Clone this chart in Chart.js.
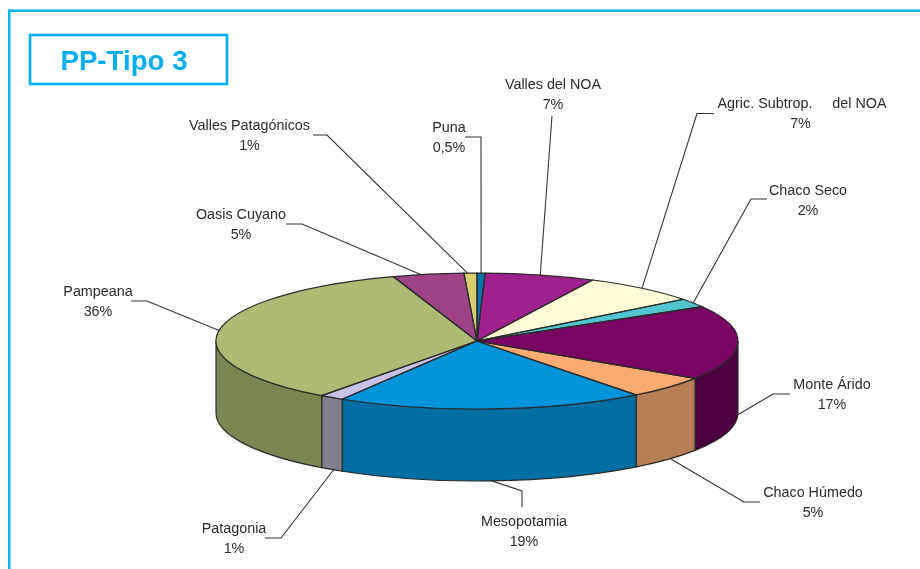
<!DOCTYPE html>
<html>
<head>
<meta charset="utf-8">
<style>html,body{margin:0;padding:0;background:#fff;overflow:hidden}canvas{display:block}</style>
<script src="https://cdn.jsdelivr.net/npm/chart.js@4"></script>
</head>
<body>
<canvas id="c" width="920" height="569"></canvas>
<script>
const chartTitle = 'PP-Tipo 3';
const categories = ['Puna','Valles del NOA','Agric. Subtrop.     del NOA','Chaco Seco','Monte Árido','Chaco Húmedo','Mesopotamia','Patagonia','Pampeana','Oasis Cuyano','Valles Patagónicos'];
const percentLabels = ['0,5%','7%','7%','2%','17%','5%','19%','1%','36%','5%','1%'];
// slice sizes
const sliceValues = [0.5,6.8,7.2,2.1,17.7,5.3,19.1,1.5,34.7,4.4,0.8];
const topColors = ['#0073aa','#a0218e','#fffbd6','#50c4d0','#7a0565','#fbaa71','#0095db','#c8c3e6','#adba73','#a04287','#d8cf6e'];
const sideColors = ['#005a85','#7a1a6c','#c9c6a8','#3d98a2','#4d0040','#b77f55','#006fa3','#81818f','#7a8650','#7a3268','#a8a055'];

// layout of annotation text and leader elbows
const textX = [449,553,802,808,832,813,524,234,98,241,249.5];
const textY = [132,89,108,195,389,497,526,533,296,219,130];
const elbowA = [[481,137],[552,116],[697,113.5],[751,199],[773,394],[744,502],[522,491],[281,538],[147,301],[302,224],[327,135]];
const elbowB = [[465,137],null,[714,113.5],[767,199],[790,394],[760,502],[522,507],[265,538],[131,301],[286,224],[313,135]];
const anchorNudge = [0,0,0,0,0,3,0,2,0,-8,-3];
const CX_PAD = 34, CY = 341, RX = 261, RY = 68, DEPTH = 72;
const K = RY / RX;
const INK = '#2a2a2a';

const pie3d = {
  id: 'pie3d',
  beforeDraw(chart) {
    const c = chart.ctx;
    c.save();
    c.strokeStyle = '#00b4f0';
    c.lineWidth = 2.5;
    c.strokeRect(9.2, 10.7, 1000, 1000);
    c.strokeStyle = '#00aeef';
    c.lineWidth = 2.6;
    c.strokeRect(30, 35, 197, 49);
    c.fillStyle = '#00aeef';
    c.font = 'bold 27.7px "Liberation Sans"';
    c.textAlign = 'center';
    c.textBaseline = 'alphabetic';
    c.fillText(chartTitle, 124, 70);
    c.restore();
  },
  beforeDatasetDraw(chart) {
    const c = chart.ctx, arcs = chart.getDatasetMeta(0).data;
    // side walls of the front half
    arcs.forEach((a, i) => {
      const s = Math.max(a.startAngle, 0), e = Math.min(a.endAngle, Math.PI);
      if (e <= s) return;
      c.save();
      c.beginPath();
      c.ellipse(a.x, CY, RX, RY, 0, s, e, false);
      c.ellipse(a.x, CY + DEPTH, RX, RY, 0, e, s, true);
      c.closePath();
      c.fillStyle = sideColors[i];
      c.fill();
      c.strokeStyle = INK;
      c.lineWidth = 1.2;
      c.stroke();
      c.restore();
    });
    c.save();
    const y0 = arcs[0].y;
    c.translate(0, CY);
    c.scale(1, K);
    c.translate(0, -y0);
  },
  afterDatasetDraw(chart) {
    const c = chart.ctx, arcs = chart.getDatasetMeta(0).data;
    c.restore();
    // slice outlines with an even pen
    c.save();
    c.strokeStyle = INK;
    c.lineWidth = 1.2;
    arcs.forEach(a => {
      c.beginPath();
      c.moveTo(a.x, CY);
      c.ellipse(a.x, CY, RX, RY, 0, a.startAngle, a.endAngle, false);
      c.closePath();
      c.stroke();
    });
    // leader lines, anchored on each slice's mid angle
    c.strokeStyle = '#333';
    c.lineWidth = 1.1;
    arcs.forEach((a, i) => {
      const mid = (a.startAngle + a.endAngle) / 2;
      const front = Math.sin(mid) > 0;
      const ax = a.x + RX * Math.cos(mid) + anchorNudge[i];
      const ay = CY + RY * Math.sin(mid) + (front ? DEPTH : 0);
      c.beginPath();
      c.moveTo(ax, ay);
      c.lineTo(elbowA[i][0], elbowA[i][1]);
      if (elbowB[i]) c.lineTo(elbowB[i][0], elbowB[i][1]);
      c.stroke();
    });
    // text
    c.fillStyle = '#2b2b2b';
    c.font = '14.35px "Liberation Sans"';
    c.textAlign = 'center';
    c.textBaseline = 'alphabetic';
    categories.forEach((name, i) => {
      c.fillText(name, textX[i], textY[i]);
      c.fillText(percentLabels[i], i === 2 ? 800.5 : textX[i], textY[i] + 20);
    });
    c.restore();
  }
};

new Chart(document.getElementById('c'), {
  type: 'pie',
  data: {
    labels: categories,
    datasets: [{
      data: sliceValues,
      backgroundColor: topColors,
      borderWidth: 0,
      clip: false
    }]
  },
  options: {
    responsive: false,
    animation: false,
    radius: RX,
    layout: { padding: { left: CX_PAD } },
    events: [],
    plugins: { legend: { display: false }, title: { display: false }, tooltip: { enabled: false } }
  },
  plugins: [pie3d]
});
</script>
</body>
</html>
